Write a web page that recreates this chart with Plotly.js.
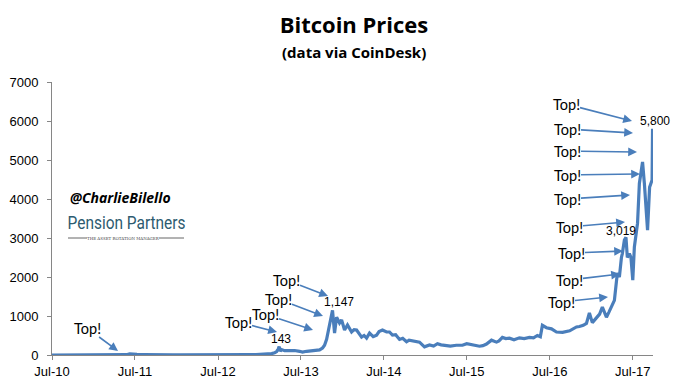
<!DOCTYPE html>
<html>
<head>
<meta charset="utf-8">
<script src="https://cdn.plot.ly/plotly-3.0.1.min.js"></script>
<style>html,body{margin:0;padding:0;background:#fff;}#chart{width:677px;height:387px;}</style>
</head>
<body>
<div id="chart"></div>
<script>
// ---- data ----
const dates = [
"2010-07-01","2010-08-01","2010-09-01","2010-10-01","2010-11-01","2010-12-01",
"2011-01-01","2011-02-01","2011-03-01","2011-04-01","2011-05-01","2011-05-25","2011-06-08","2011-06-20",
"2011-07-10","2011-08-10","2011-09-10","2011-10-10","2011-11-15","2011-12-15",
"2012-01-15","2012-02-15","2012-03-15","2012-04-15","2012-05-15","2012-06-15","2012-07-15","2012-08-15",
"2012-09-15","2012-10-15","2012-11-15","2012-12-15",
"2013-01-09","2013-02-04","2013-02-22","2013-03-07","2013-03-16","2013-03-23","2013-03-27","2013-04-01",
"2013-04-07","2013-04-20","2013-05-12","2013-06-03","2013-06-25","2013-07-08","2013-07-26","2013-08-17",
"2013-09-08","2013-09-21","2013-10-04","2013-10-13","2013-10-22","2013-10-31","2013-11-09","2013-11-17",
"2013-11-26","2013-12-05","2013-12-18","2013-12-27","2014-01-09","2014-01-22","2014-02-09","2014-02-20",
"2014-03-03","2014-03-25","2014-04-05","2014-04-16","2014-04-29","2014-05-15","2014-05-30","2014-06-10",
"2014-06-25","2014-07-13","2014-07-26","2014-08-08","2014-08-22","2014-09-08","2014-09-22","2014-10-09",
"2014-10-20","2014-11-04","2014-11-20","2014-12-05","2014-12-27","2015-01-18","2015-02-05","2015-02-22",
"2015-03-10","2015-04-02","2015-04-20","2015-05-16","2015-06-12","2015-07-01","2015-07-26","2015-08-26",
"2015-09-10","2015-09-26","2015-10-18","2015-11-09","2015-11-20","2015-12-05","2015-12-20","2016-01-05",
"2016-01-25","2016-02-18","2016-03-10","2016-04-02","2016-04-20","2016-05-07","2016-05-20","2016-05-29",
"2016-06-16","2016-07-08","2016-07-30","2016-08-26","2016-09-26","2016-10-26","2016-11-08","2016-11-25",
"2016-12-09","2016-12-22","2017-01-04","2017-01-15","2017-01-26","2017-02-05","2017-02-17","2017-03-07",
"2017-03-18","2017-03-29","2017-04-11","2017-04-24","2017-05-03","2017-05-12","2017-05-16","2017-05-25",
"2017-06-01","2017-06-07","2017-06-16","2017-06-23","2017-07-01","2017-07-08","2017-07-22","2017-07-30",
"2017-08-06","2017-08-13","2017-08-21","2017-08-28","2017-09-04","2017-09-13","2017-09-19","2017-09-24",
"2017-09-26"
];
const prices = [
0.06,0.07,0.06,0.06,0.25,0.22,
0.3,0.7,0.9,0.8,3.5,8,30,17,
14,10,5,4,2.5,3.5,
6.5,5,5,5,5,6.5,8.5,11,
12,12,11,13,
15,25,35,55,90,150,215,100,
140,110,120,115,95,75,95,110,
125,130,180,250,400,650,900,1147,
560,970,820,900,640,770,590,650,
640,460,500,435,560,470,510,600,
640,590,590,510,520,400,430,340,
380,370,350,330,210,256,230,290,
260,250,230,250,250,290,260,225,
240,280,380,330,360,450,420,430,
390,440,420,450,440,500,470,760,
700,670,590,580,620,720,730,760,
810,1080,830,900,970,1050,1230,970,
1100,1230,1400,2100,2000,2500,2600,2950,
3019,2500,2600,2500,1920,2770,3380,4400,
4700,4950,4400,3800,3200,4300,4400,4490,
5800
];
const tickDates = ["2010-07-01","2011-07-01","2012-07-01","2013-07-01","2014-07-01","2015-07-01","2016-07-01","2017-07-01"];
const tickLabels = ["Jul-10","Jul-11","Jul-12","Jul-13","Jul-14","Jul-15","Jul-16","Jul-17"];
const yTicks = [0,1000,2000,3000,4000,5000,6000,7000];
const peakLabels = ["143","1,147","3,019","5,800"];
const calloutText = "Top!";

// ---- layout helpers (pixel positions in the 677x387 frame) ----
const PL = 52, PR = 653, PT = 82, PB = 355;
const px = x => (x - PL) / (PR - PL);
const py = y => (PB - y) / (PB - PT);
const blue = "#4a7ebb";

// [text centre x, y, arrow tip x, y]
const callouts = [
 [87,328,118,351],[238,322,277,332],[265,314,313,330],[278,299,323,316],[286,280,328,296],
 [566,104,632,121],[567,129,633,133],[567,151,637,152],[567,175,640,174],[567,199,630,195],
 [569,227,625,222],[571,253,623,251],[569,280,620,274],[561,302,608,297]
];
const peakPos = [[281,339],[339,302],[621,231],[655,121]];

const txt = (text, x, y, font) => ({text, xref:"paper", yref:"paper", x:px(x), y:py(y),
  xanchor:"center", yanchor:"middle", showarrow:false, borderpad:0, font});

const annotations = [];
callouts.forEach(c => {
  annotations.push({
    text: calloutText, xref:"paper", yref:"paper", x:px(c[2]), y:py(c[3]),
    xanchor:"center", yanchor:"middle", borderpad:0,
    ax:c[0]-c[2], ay:c[1]-c[3], showarrow:true, arrowhead:2, arrowsize:1.1, arrowwidth:1.6,
    arrowcolor:blue, standoff:0, startstandoff:0,
    font:{family:"Lato, 'Open Sans', sans-serif", size:14.5, color:"#000"}
  });
});
peakLabels.forEach((t,i) => {
  annotations.push(txt(t, peakPos[i][0], peakPos[i][1],
    {family:"'Liberation Sans', Arial, sans-serif", size:12, color:"#000"}));
});
annotations.push(txt("<b>(data via CoinDesk)</b>", 354, 52, {family:"'Open Sans', sans-serif", size:15, color:"#000"}));
annotations.push(txt("<b><i>@CharlieBilello</i></b>", 120, 197, {family:"'Open Sans', sans-serif", size:14, color:"#000"}));
annotations.push(txt("Pension Partners", 126, 223, {family:"Roboto, sans-serif", size:19, color:"#2d5b70"}));
annotations.push(txt("THE ASSET ROTATION MANAGER", 123, 238, {family:"'DejaVu Serif', serif", size:4, color:"#444"}));

const shapes = [
  {type:"line", xref:"paper", yref:"paper", x0:px(68), x1:px(87), y0:py(238), y1:py(238), line:{color:"#666", width:1}},
  {type:"line", xref:"paper", yref:"paper", x0:px(159), x1:px(184), y0:py(238), y1:py(238), line:{color:"#666", width:1}}
];

const trace = {
  x: dates, y: prices, type:"scatter", mode:"lines",
  line:{color:blue, width:3.2}, hoverinfo:"skip"
};

const layout = {
  width:677, height:387,
  margin:{l:PL, r:677-PR, t:PT, b:387-PB},
  paper_bgcolor:"#fff", plot_bgcolor:"#fff",
  showlegend:false,
  title:{text:"<b>Bitcoin Prices</b>", x:354/677, xanchor:"center", xref:"container",
         y:1-25/387, yanchor:"middle", yref:"container",
         font:{family:"'Open Sans', sans-serif", size:22, color:"#000"}},
  xaxis:{type:"date", range:["2010-07-01","2017-09-28"], tickvals:tickDates, ticktext:tickLabels,
         showgrid:false, zeroline:false, showline:true, linecolor:"#868686", linewidth:1,
         ticks:"outside", ticklen:4, tickcolor:"#868686",
         tickfont:{family:"'Liberation Sans', Arial, sans-serif", size:13, color:"#000"}},
  yaxis:{range:[0,7000], tickvals:yTicks, tickformat:"d",
         showgrid:false, zeroline:false, showline:true, linecolor:"#868686", linewidth:1,
         ticks:"outside", ticklen:4, tickcolor:"#868686", ticklabelstandoff:6,
         tickfont:{family:"'Liberation Sans', Arial, sans-serif", size:13, color:"#000"}},
  annotations: annotations,
  shapes: shapes
};

Plotly.newPlot("chart", [trace], layout, {displayModeBar:false, staticPlot:true}).then(() => {
  // condense the logo wordmark to the narrow width seen in the reference
  document.querySelectorAll("#chart .annotation-text").forEach(t => {
    if (t.textContent === "Pension Partners") {
      t.setAttribute("textLength", "118");
      t.setAttribute("lengthAdjust", "spacingAndGlyphs");
    }
  });
});
</script>
</body>
</html>
